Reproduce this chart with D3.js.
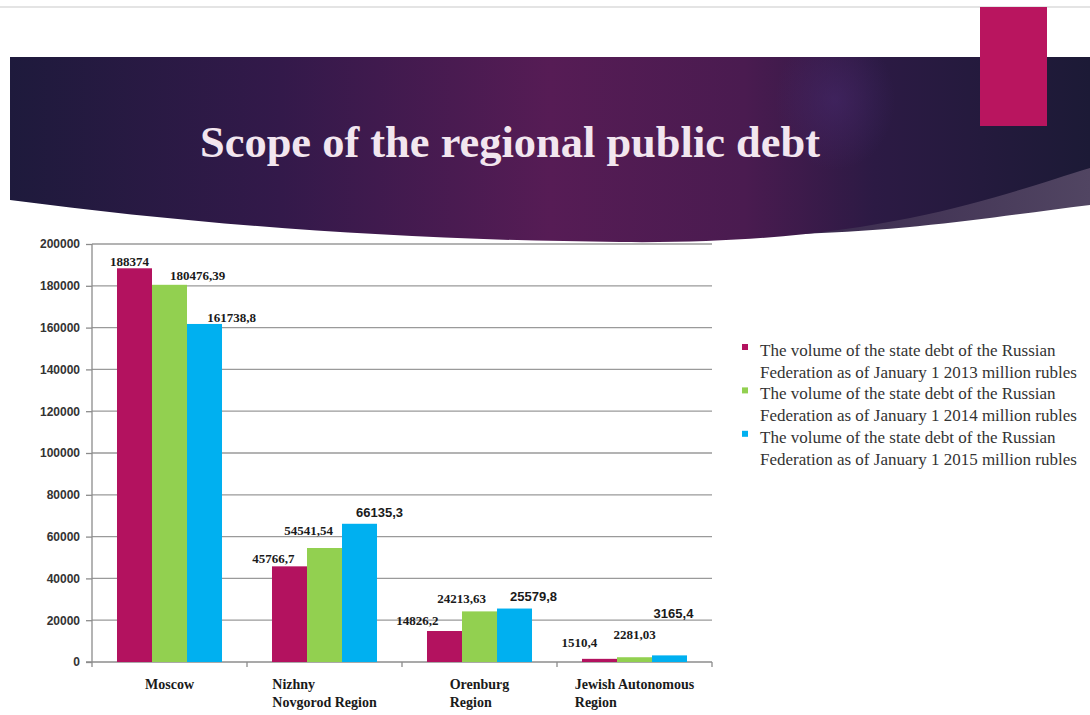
<!DOCTYPE html>
<html>
<head>
    <meta charset="UTF-8">
    <title>Scope of the regional public debt</title>
    <script src="https://d3js.org/d3.v7.min.js"></script>
    <style>
        body { margin: 0; background: #fff; }
        svg { display: block; }
        .ytick text { font-family: "Liberation Sans", Arial, sans-serif; font-weight: bold; font-size: 12px; fill: #333; }
    </style>
</head>
<body>
<svg id="chart"></svg>
<script>
    // data
    var categories = ["Moscow", "Nizhny Novgorod Region", "Orenburg Region", "Jewish Autonomous Region"];
    var categoryLines = [["Moscow"], ["Nizhny", "Novgorod Region"], ["Orenburg", "Region"], ["Jewish Autonomous", "Region"]];
    var seriesNames = [
        "The volume of the state debt of the Russian Federation as of January 1 2013 million rubles",
        "The volume of the state debt of the Russian Federation as of January 1 2014 million rubles",
        "The volume of the state debt of the Russian Federation as of January 1 2015 million rubles"
    ];
    var legendLines = [
        ["The volume of the state debt of the Russian", "Federation as of January 1 2013 million rubles"],
        ["The volume of the state debt of the Russian", "Federation as of January 1 2014 million rubles"],
        ["The volume of the state debt of the Russian", "Federation as of January 1 2015 million rubles"]
    ];
    var debt2013 = [188374, 45766.7, 14826.2, 1510.4];
    var debt2014 = [180476.39, 54541.54, 24213.63, 2281.03];
    var debt2015 = [161738.8, 66135.3, 25579.8, 3165.4];
    var yTicks = [0, 20000, 40000, 60000, 80000, 100000, 120000, 140000, 160000, 180000, 200000];

    var colors = ["#b3125f", "#92d050", "#00b0f0"];

    // hand placed data labels on the slide: [dx, dy, font] per series, per category
    var labelNudge = [
        [[-5, -2, "serif"], [-16, -3, "serif"], [-27, -6, "serif"], [-20, -12, "serif"]],
        [[28, -5, "serif"], [-16, -13, "serif"], [-18, -8, "serif"], [0, -18, "serif"]],
        [[27, -2, "serif"], [20, -7, "sans"], [19, -8, "sans"], [4, -37, "sans"]]
    ];

    var W = 1090, H = 715;
    var svg = d3.select("#chart").attr("width", W).attr("height", H);
    var defs = svg.append("defs");

    // ---- slide header ----
    var bannerPath = "M10,57 H1090 V168 C1000,195 880,245 620,242 C400,240 200,225 10,200 Z";
    var g1 = defs.append("linearGradient").attr("id", "bannerGrad");
    [["0%", "#1e1a3c"], ["25%", "#33194a"], ["50%", "#561c55"], ["68%", "#4a1b50"], ["80%", "#2c1a44"], ["100%", "#1c1a36"]]
        .forEach(function (s) { g1.append("stop").attr("offset", s[0]).attr("stop-color", s[1]); });
    var g2 = defs.append("radialGradient").attr("id", "glow")
        .attr("cx", 0.5).attr("cy", 0.5).attr("r", 0.5);
    g2.append("stop").attr("offset", "0%").attr("stop-color", "#45286a").attr("stop-opacity", 0.6);
    g2.append("stop").attr("offset", "100%").attr("stop-color", "#45286a").attr("stop-opacity", 0);
    var g3 = defs.append("linearGradient").attr("id", "sweepGrad");
    g3.append("stop").attr("offset", "0%").attr("stop-color", "#3a2a4e");
    g3.append("stop").attr("offset", "100%").attr("stop-color", "#514562");
    defs.append("clipPath").attr("id", "bannerClip").append("path").attr("d", bannerPath);

    svg.append("line").attr("x1", 0).attr("x2", W).attr("y1", 7).attr("y2", 7)
        .attr("stroke", "#e4e4e4").attr("stroke-width", 2);

    svg.append("path")
        .attr("d", "M800,200 L1090,140 V205 C1000,216 920,230 800,234 Z")
        .attr("fill", "url(#sweepGrad)");

    svg.append("path").attr("d", bannerPath).attr("fill", "url(#bannerGrad)");
    svg.append("ellipse").attr("cx", 835).attr("cy", 100).attr("rx", 60).attr("ry", 70)
        .attr("fill", "url(#glow)").attr("clip-path", "url(#bannerClip)");

    svg.append("rect").attr("x", 980).attr("y", 7).attr("width", 67).attr("height", 119)
        .attr("fill", "#b9155f");

    svg.append("text")
        .attr("x", 510).attr("y", 157)
        .attr("text-anchor", "middle")
        .attr("textLength", 620).attr("lengthAdjust", "spacingAndGlyphs")
        .style("font-family", "'Liberation Serif', 'Times New Roman', serif")
        .style("font-weight", "bold").style("font-size", "44px")
        .attr("fill", "#f2e6ef")
        .text("Scope of the regional public debt");

    // ---- chart ----
    var x0 = d3.scaleBand().domain(categories).range([92, 712]);
    var x1 = d3.scaleBand().domain([0, 1, 2]).range([0, x0.bandwidth()]).paddingOuter(0.714);
    var y = d3.scaleLinear().domain([0, 200000]).range([662, 244]);

    var chart = svg.append("g");

    chart.selectAll("line.grid").data(yTicks.filter(function (d) { return d > 0; }))
        .enter().append("line").attr("class", "grid")
        .attr("x1", 92).attr("x2", 712)
        .attr("y1", function (d) { return y(d); }).attr("y2", function (d) { return y(d); })
        .attr("stroke", "#9a9a9a").attr("stroke-width", 1.3);

    var yAxis = chart.append("g").attr("class", "ytick").attr("transform", "translate(92,0)")
        .call(d3.axisLeft(y).tickValues(yTicks).tickSize(6).tickPadding(6).tickFormat(d3.format("d")));
    yAxis.selectAll("line, path").attr("stroke", "#8c8c8c").attr("stroke-width", 1.3);
    yAxis.select(".domain").attr("d", "M0," + y(200000) + "V" + y(0));

    // x axis with ticks between groups
    var bounds = categories.map(function (c) { return x0(c); }).concat([x0.range()[1]]);
    chart.append("line").attr("x1", 86).attr("x2", 712).attr("y1", y(0)).attr("y2", y(0))
        .attr("stroke", "#8c8c8c").attr("stroke-width", 1.5);
    chart.selectAll("line.xtick").data(bounds).enter().append("line")
        .attr("x1", function (d) { return d; }).attr("x2", function (d) { return d; })
        .attr("y1", y(0)).attr("y2", y(0) + 5)
        .attr("stroke", "#8c8c8c").attr("stroke-width", 1.3);

    var allSeries = [debt2013, debt2014, debt2015];
    var barData = [];
    allSeries.forEach(function (vals, s) {
        vals.forEach(function (v, c) {
            barData.push({ s: s, c: c, v: v });
        });
    });

    chart.selectAll("rect.bar").data(barData).enter().append("rect")
        .attr("class", "bar")
        .attr("x", function (d) { return x0(categories[d.c]) + x1(d.s); })
        .attr("width", x1.bandwidth())
        .attr("y", function (d) { return y(d.v); })
        .attr("height", function (d) { return y(0) - y(d.v); })
        .attr("fill", function (d) { return colors[d.s]; });

    chart.selectAll("text.val").data(barData).enter().append("text")
        .attr("class", "val")
        .attr("text-anchor", "middle")
        .attr("x", function (d) { return x0(categories[d.c]) + x1(d.s) + x1.bandwidth() / 2 + labelNudge[d.s][d.c][0]; })
        .attr("y", function (d) { return y(d.v) + labelNudge[d.s][d.c][1]; })
        .style("font-family", function (d) {
            return labelNudge[d.s][d.c][2] === "sans" ? "'Liberation Sans', Arial, sans-serif" : "'Liberation Serif', 'Times New Roman', serif";
        })
        .style("font-size", function (d) { return labelNudge[d.s][d.c][2] === "sans" ? "13px" : "13px"; })
        .style("font-weight", "bold")
        .attr("fill", "#1a1a1a")
        .text(function (d) { return String(d.v).replace(".", ","); });

    // category labels: left aligned lines, block centred on the group
    categories.forEach(function (c, i) {
        var t = chart.append("text")
            .style("font-family", "'Liberation Serif', 'Times New Roman', serif")
            .style("font-weight", "bold").style("font-size", "14px")
            .attr("fill", "#1a1a1a");
        categoryLines[i].forEach(function (line, k) {
            t.append("tspan").attr("y", 689 + k * 18).text(line);
        });
        var w = 0;
        t.selectAll("tspan").each(function () { w = Math.max(w, this.getComputedTextLength()); });
        var left = x0(c) + x0.bandwidth() / 2 - w / 2;
        t.selectAll("tspan").attr("x", left);
    });

    // legend
    var legend = svg.append("g");
    seriesNames.forEach(function (name, i) {
        var base = 356 + i * 43.4;
        legend.append("rect").attr("x", 742).attr("y", base - 12).attr("width", 6).attr("height", 6)
            .attr("fill", colors[i]);
        var t = legend.append("text")
            .style("font-family", "'Liberation Serif', 'Times New Roman', serif")
            .style("font-size", "17px").attr("fill", "#333");
        legendLines[i].forEach(function (line, k) {
            t.append("tspan").attr("x", 760).attr("y", base + k * 21.7).text(line);
        });
    });
</script>
</body>
</html>
